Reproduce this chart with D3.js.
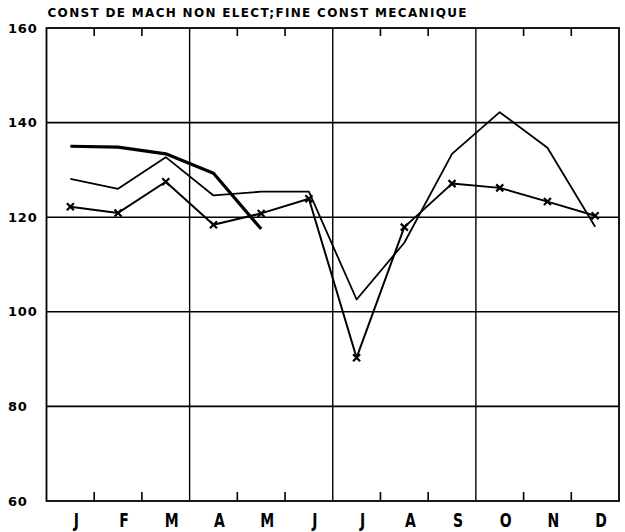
<!DOCTYPE html>
<html><head><meta charset="utf-8">
<script src="https://cdn.jsdelivr.net/npm/d3@7"></script>
<style>body{margin:0;background:#fff;}svg{display:block;}</style>
</head><body>
<script>
const months = ["J","F","M","A","M","J","J","A","S","O","N","D"];
const yTicks = [60,80,100,120,140,160];
const seriesThick = [135.0, 134.8, 133.4, 129.3, 117.5];
const seriesThin = [128.1, 126.0, 132.7, 124.6, 125.4, 125.4, 102.6, 114.6, 133.4, 142.2, 134.7, 118.0];
const seriesCross = [122.2, 120.9, 127.5, 118.4, 120.8, 123.9, 90.3, 117.9, 127.1, 126.2, 123.3, 120.3];
const title = "CONST DE MACH NON ELECT;FINE CONST MECANIQUE";

const W=625,H=532, L=46.5, R=619, T=28, B=501;
const svg=d3.select("body").append("svg").attr("width",W).attr("height",H);
const x=d3.scaleBand().domain(d3.range(12)).range([L,R]).paddingInner(0).paddingOuter(0);
const y=d3.scaleLinear().domain([60,160]).range([B,T]);
const cx=i=>x(i)+x.bandwidth()/2;

// horizontal grid
svg.append("g").selectAll("line").data(yTicks.filter(v=>v>60&&v<160)).join("line")
  .attr("x1",L).attr("x2",R).attr("y1",d=>y(d)).attr("y2",d=>y(d))
  .attr("stroke","#000").attr("stroke-width",1.6);
// vertical quarter lines and month ticks
const bounds=d3.range(1,12);
svg.append("g").selectAll("line").data(bounds).join("line")
  .attr("x1",d=>x(d)).attr("x2",d=>x(d))
  .attr("y1",T).attr("y2",d=>d%3===0?B:T+8)
  .attr("stroke","#000").attr("stroke-width",d=>d%3===0?1.4:1.6);
svg.append("g").selectAll("line").data(bounds.filter(d=>d%3!==0)).join("line")
  .attr("x1",d=>x(d)).attr("x2",d=>x(d)).attr("y1",B-9).attr("y2",B)
  .attr("stroke","#000").attr("stroke-width",1.6);
// frame
svg.append("rect").attr("x",L).attr("y",T).attr("width",R-L).attr("height",B-T)
  .attr("fill","none").attr("stroke","#000").attr("stroke-width",1.8);

// y labels
svg.append("g").selectAll("text").data(yTicks).join("text")
  .attr("x",8).attr("y",d=>y(d)).attr("dy","0.36em")
  .attr("font-family","DejaVu Sans").attr("font-weight","bold").attr("font-size",13)
  .attr("letter-spacing",0.8).text(d=>d);

// month labels
svg.append("g").selectAll("text").data(months).join("text")
  .attr("transform",(d,i)=>`translate(${cx(i)+6},${527}) scale(0.7,1)`)
  .attr("text-anchor","middle")
  .attr("font-family","DejaVu Sans").attr("font-weight","bold").attr("font-size",20)
  .text(d=>d);

// title
svg.append("text").attr("x",L+1).attr("y",17)
  .attr("font-family","DejaVu Sans").attr("font-weight","bold").attr("font-size",12)
  .attr("textLength",419).attr("lengthAdjust","spacing").text(title);

const line=d3.line().x((d,i)=>cx(i)).y(d=>y(d));
svg.append("path").datum(seriesThin).attr("d",line).attr("fill","none")
  .attr("stroke","#000").attr("stroke-width",1.8).attr("stroke-linejoin","round");
svg.append("path").datum(seriesCross).attr("d",line).attr("fill","none")
  .attr("stroke","#000").attr("stroke-width",2).attr("stroke-linejoin","round");
svg.append("path").datum(seriesThick).attr("d",line).attr("fill","none")
  .attr("stroke","#000").attr("stroke-width",3.2).attr("stroke-linejoin","round");

// cross markers
const s=3.5;
svg.append("g").selectAll("path").data(seriesCross).join("path")
  .attr("d",(d,i)=>{const px=cx(i),py=y(d);return `M${px-s},${py-s}L${px+s},${py+s}M${px-s},${py+s}L${px+s},${py-s}`;})
  .attr("stroke","#000").attr("stroke-width",2.2);
</script>
</body></html>
